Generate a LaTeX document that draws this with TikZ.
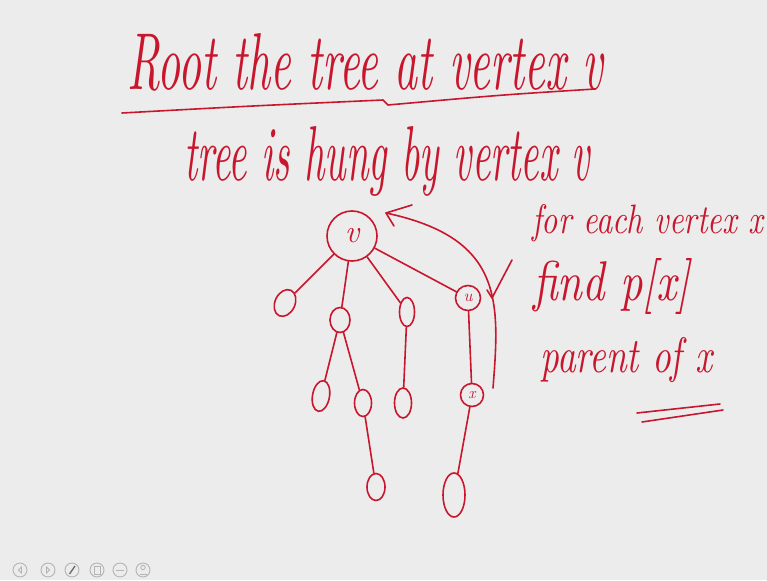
\documentclass[tikz,border=0pt]{standalone}
\usetikzlibrary{shapes.geometric}
\definecolor{ink}{RGB}{200,22,45}
\definecolor{paper}{RGB}{236,236,236}
\definecolor{btn}{RGB}{180,180,180}
\definecolor{btndark}{RGB}{110,110,110}
\begin{document}
\begin{tikzpicture}[x=1pt,y=-1pt,
  handline/.style={draw=ink, line width=1.6pt, line cap=round, line join=round},
  leaf/.style={ellipse, draw=ink, line width=1.6pt, inner sep=0pt},
  vnode/.style={circle, draw=ink, line width=1.6pt, inner sep=0pt, text=ink},
  hand/.style={anchor=base west, inner sep=0pt, text=ink},
  icon/.style={circle, draw=btn, line width=0.9pt, minimum size=14pt, inner sep=0pt}]
\fill[paper] (0,0) rectangle (767,580);
\useasboundingbox (0,0) rectangle (767,580);

% headings
\node[hand] (title) at (127,90) {\resizebox{476pt}{56pt}{\itshape Root the tree at vertex v}};
\draw[handline] (122,113) .. controls (250,106) .. (383,100) -- (388,105) .. controls (500,95) .. (595,89);
\node[hand] (sub) at (184,180) {\resizebox{406pt}{54pt}{\itshape tree is hung by vertex v}};

% tree
\node[vnode, minimum size=50pt] (root) at (352,236) {\fontsize{32}{32}\selectfont\itshape v};
\node[leaf, minimum width=20pt, minimum height=28pt, rotate=-25] (l1) at (285,303) {};
\node[leaf, minimum width=20pt, minimum height=25pt] (c2) at (340,320) {};
\node[leaf, minimum width=15pt, minimum height=29pt] (c3) at (407,312) {};
\node[vnode, minimum size=25pt] (u) at (468,298) {\fontsize{17}{17}\selectfont\itshape u};
\node[leaf, minimum width=17pt, minimum height=31pt, rotate=-10] (a) at (321,396) {};
\node[leaf, minimum width=17pt, minimum height=27pt] (b) at (363,403) {};
\node[leaf, minimum width=17pt, minimum height=30pt] (c) at (403,403) {};
\node[vnode, minimum size=23pt] (x) at (472,395) {\fontsize{16}{16}\selectfont\itshape x};
\node[leaf, minimum width=18pt, minimum height=27pt] (bb) at (376,487) {};
\node[leaf, minimum width=22pt, minimum height=44pt] (xx) at (454,495) {};

\draw[handline] (root) -- (l1);
\draw[handline] (root) -- (c2);
\draw[handline] (root) -- (c3);
\draw[handline] (root) -- (u);
\draw[handline] (c2) -- (a);
\draw[handline] (c2) -- (b);
\draw[handline] (b) -- (bb);
\draw[handline] (c3) -- (c);
\draw[handline] (u) -- (x);
\draw[handline] (x) -- (xx);

% curved arrow back to root
\coordinate (arcstart) at (493,388);
\coordinate (tip) at (386,213);
\coordinate (arm1) at (412,205);
\coordinate (arm2) at (394,226);
\draw[handline] (arcstart) .. controls (500,300) and (503,238) .. (tip);
\draw[handline] (arm1) -- (tip) -- (arm2);
% tick
\coordinate (tk1) at (487,290);
\coordinate (tk2) at (492,298);
\coordinate (tk3) at (512,260);
\draw[handline] (tk1) -- (tk2) -- (tk3);

% right notes
\node[hand] (t1) at (532,233) {\resizebox{231pt}{29pt}{\itshape for each vertex x}};
\node[hand] (t2) at (533,300) {\resizebox{157pt}{42pt}{\itshape find p[x]}};
\node[hand] (t3) at (540,372) {\resizebox{172pt}{35pt}{\itshape parent of x}};
\draw[handline] (637,413) -- (720,404);
\draw[handline] (642,422) -- (723,410);

% toolbar
\foreach \i/\xx in {1/20,2/48,3/72,4/97,5/120,6/143} \node[icon] (btn\i) at (\xx,570) {};
\draw[btn, line width=0.8pt] (21.5,567) -- (18.5,570) -- (21.5,573) -- cycle;
\draw[btn, line width=0.8pt] (46.5,567) -- (49.5,570) -- (46.5,573) -- cycle;
\draw[btndark, line width=1.4pt] (69.5,574) -- (75,566);
\draw[btn, line width=0.8pt] (94,566) rectangle (100,574);
\draw[btn, line width=0.9pt] (116,570) -- (124,570);
\draw[btn, line width=0.8pt] (143,567.5) circle (2.2);
\draw[btn, line width=0.8pt] (139.5,574) -- (146.5,574);
\end{tikzpicture}
\end{document}
